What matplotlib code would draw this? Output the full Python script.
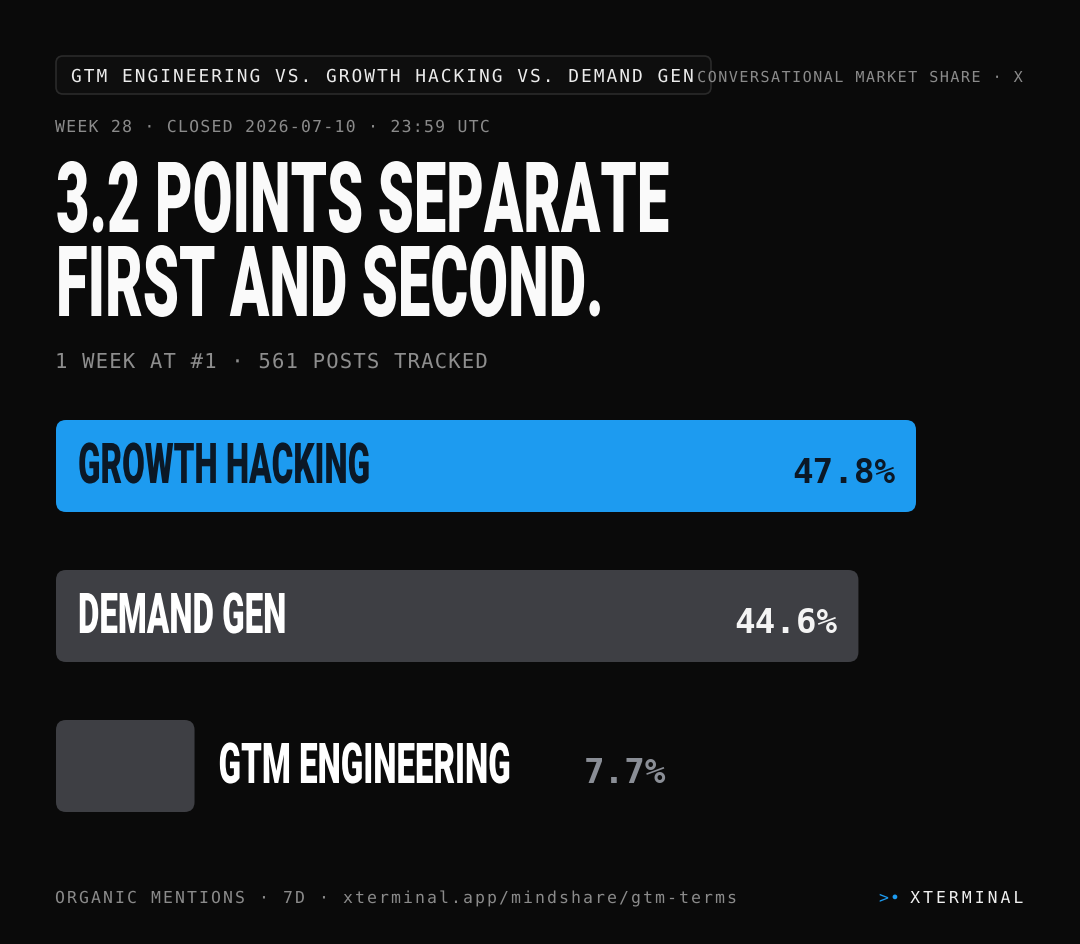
import numpy as np
import matplotlib
matplotlib.use("Agg")
import matplotlib.pyplot as plt
from matplotlib.patches import FancyBboxPatch
from matplotlib.patheffects import AbstractPathEffect
from matplotlib.path import Path
from matplotlib.textpath import TextPath
from matplotlib.font_manager import FontProperties

# данные
terms = ["GROWTH HACKING", "DEMAND GEN", "GTM ENGINEERING"]
shares = [47.8, 44.6, 7.7]
weeks_at_top = 1
posts = 561
week = 28
closed = "2026-07-10 · 23:59 UTC"

BG = "#0a0a0a"
BLUE = "#1d9bf0"
BAR_GREY = "#3e3f44"
MUTED = "#8b8b8b"
MONO = "DejaVu Sans Mono"
DISPLAY = FontProperties(family="Roboto", weight="black")


# вытягиваем контуры букв по вертикали и добавляем трекинг для моноширинного текста
class Typeset(AbstractPathEffect):
    def __init__(self, sy=1.0, track=0.0, cell=0.602, right=False):
        super().__init__()
        self.sy = sy
        self.track = track
        self.cell = cell
        self.right = right

    def draw_path(self, renderer, gc, tpath, affine, rgbFace=None):
        v = tpath.vertices.copy()
        c = tpath.codes
        real = c != Path.CLOSEPOLY
        x_before = v[real, 0].max()
        if self.track:
            starts = np.flatnonzero(c == Path.MOVETO)
            ends = np.append(starts[1:], len(c))
            for a, b in zip(starts, ends):
                m = real[a:b]
                cx = v[a:b][m, 0].mean()
                idx = np.floor(cx / (self.cell * 100))
                v[a:b, 0] += idx * self.track * 100
        v[:, 1] *= self.sy
        if self.right:
            v[:, 0] += x_before - v[real, 0].max()
        renderer.draw_path(gc, Path(v, c), affine, rgbFace)


fig = plt.figure(figsize=(10.8, 9.44), dpi=100, facecolor=BG)
ax = fig.add_axes([0, 0, 1, 1])
ax.set_xlim(0, 1080)
ax.set_ylim(944, 0)
ax.axis("off")
ax.set_facecolor(BG)


def mono(x, y, s, cap, adv, color, right=False, weight="normal"):
    em = cap / 0.729
    track = adv / em - 0.602
    ax.text(x, y, s, fontsize=em * 0.72, family=MONO, weight=weight, color=color,
            ha="right" if right else "left", va="baseline",
            path_effects=[Typeset(track=track, right=right)])


# узкий заголовочный шрифт: кегль по ширине, высота букв через вертикальное растяжение
title1 = f"{shares[0] - shares[1]:.1f} POINTS SEPARATE"
title2 = "FIRST AND SECOND."
title_em = 70 / 0.711
natural = TextPath((0, 0), title1, size=title_em, prop=DISPLAY).get_extents().width
SX = 611 / natural


def display(x, y, s, cap, color):
    em = cap / 0.711
    ax.text(x, y, s, fontproperties=DISPLAY, fontsize=em * SX * 0.72, color=color,
            ha="left", va="baseline", path_effects=[Typeset(sy=1 / SX)])


# шапка
ax.add_patch(FancyBboxPatch((56, 56), 655, 38, boxstyle="round,pad=0,rounding_size=7",
                            fc="#0e0e0e", ec="#2a2a2a", lw=1.2))
mono(71, 82, "GTM ENGINEERING VS. GROWTH HACKING VS. DEMAND GEN", 13, 12.75, "#ececec")
mono(1024, 82, "CONVERSATIONAL MARKET SHARE · X", 11, 10.55, MUTED, right=True)
mono(55, 132, f"WEEK {week} · CLOSED {closed}", 12, 11.18, MUTED)

display(56, 232, title1, 70, "#fafafa")
display(56, 316, title2, 70, "#fafafa")

mono(55, 368, f"{weeks_at_top} WEEK AT #1 · {posts} POSTS TRACKED", 15, 13.56, "#8e8e8e")

# полосы
px_per_pct = 860 / max(shares)
tops = [420, 570, 720]
bar_colors = [BLUE, BAR_GREY, BAR_GREY]
label_colors = ["#0b1826", "#ffffff", "#ffffff"]
pct_colors = ["#0b1826", "#f4f4f4", "#8a8e96"]
pct_size = 25 / 0.729 * 0.72

for term, share, top, bc, lc, pc in zip(terms, shares, tops, bar_colors, label_colors, pct_colors):
    w = share * px_per_pct
    ax.add_patch(FancyBboxPatch((56, top), w, 92, boxstyle="round,pad=0,rounding_size=10",
                                fc=bc, ec="none"))
    base = top + 63
    pct = f"{share:.1f}%"
    if w > 300:
        display(78, base, term, 40, lc)
        ax.text(56 + w - 21, base, pct, family=MONO, weight="bold", fontsize=pct_size,
                color=pc, ha="right", va="baseline")
    else:
        display(56 + w + 24, base, term, 40, lc)
        ax.text(56 + w + 472, base, pct, family=MONO, weight="bold", fontsize=pct_size,
                color=pc, ha="right", va="baseline")

# подвал
mono(55, 903, "ORGANIC MENTIONS · 7D · xterminal.app/mindshare/gtm-terms", 12, 12.0, MUTED)
mono(1023, 903, "XTERMINAL", 12, 12.9, "#f0f0f0", right=True)
mono(879, 903, ">•", 12, 11.0, BLUE)

plt.savefig("out.png", dpi=100, facecolor=BG)
